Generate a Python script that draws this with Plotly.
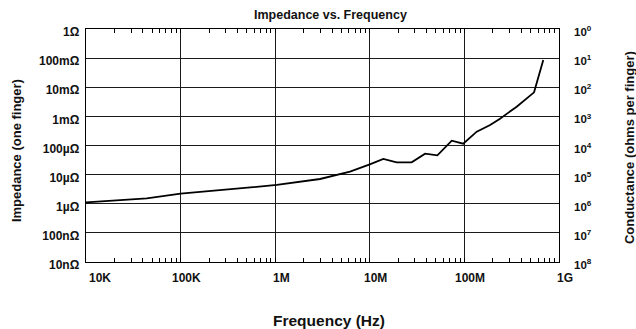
import plotly.graph_objects as go
import numpy as np

# ---- data ----
freq_hz = [1.0e4, 4.39e4, 1.0e5, 1.04e6, 2.98e6, 4.11e6, 6.18e6, 1.0e7, 1.39e7,
           1.92e7, 2.77e7, 3.84e7, 5.18e7, 7.35e7, 9.72e7, 1.35e8, 1.87e8,
           2.38e8, 3.57e8, 5.45e8, 6.82e8]
impedance_ohm = [1.12e-6, 1.54e-6, 2.21e-6, 4.41e-6, 7.08e-6, 8.97e-6, 1.26e-5,
                 2.26e-5, 3.44e-5, 2.65e-5, 2.65e-5, 5.22e-5, 4.60e-5, 1.46e-4,
                 1.15e-4, 2.98e-4, 5.06e-4, 8.32e-4, 2.15e-3, 6.70e-3, 8.63e-2]

x_tick_vals = [1e4, 1e5, 1e6, 1e7, 1e8, 1e9]
x_tick_text = ["10K", "100K", "1M", "10M", "100M", "1G"]
y_tick_vals = [1e-8, 1e-7, 1e-6, 1e-5, 1e-4, 1e-3, 1e-2, 1e-1, 1]
y_tick_text = ["10nΩ", "100nΩ", "1µΩ", "10µΩ", "100µΩ", "1mΩ", "10mΩ", "100mΩ", "1Ω"]
y2_tick_vals = [1, 10, 1e2, 1e3, 1e4, 1e5, 1e6, 1e7, 1e8]
y2_tick_text = ["10<sup>%d</sup>" % k for k in range(9)]

title_text = "Impedance vs. Frequency"
x_title = "Frequency (Hz)"
y_title = "Impedance (one finger)"
y2_title = "Conductance (ohms per finger)"

FONT = "Liberation Sans, Arial, Helvetica, sans-serif"
GRID = "#1a1a1a"

fig = go.Figure()
fig.add_trace(go.Scatter(x=freq_hz, y=impedance_ohm, mode="lines",
                         line=dict(color="black", width=1.8),
                         hoverinfo="skip", showlegend=False))
# empty trace to anchor right-hand conductance axis
fig.add_trace(go.Scatter(x=[], y=[], yaxis="y2", showlegend=False,
                         hoverinfo="skip"))

fig.update_layout(
    width=636, height=329,
    margin=dict(l=86, r=77, t=29, b=67),
    paper_bgcolor="white", plot_bgcolor="white",
    font=dict(family=FONT, color="#111", size=12),
    showlegend=False,
    xaxis=dict(
        type="log", range=[4, 9],
        tickvals=x_tick_vals,
        showticklabels=False,
        showgrid=True, gridcolor=GRID, gridwidth=1,
        showline=True, linecolor="black", linewidth=1.3, mirror="allticks",
        ticks="inside", ticklen=4, tickcolor="black", tickwidth=1,
        minor=dict(dtick="D1", ticks="inside", ticklen=4, tickcolor="black",
                   tickwidth=1, showgrid=False),
        zeroline=False,
    ),
    yaxis=dict(
        type="log", range=[-8, 0],
        tickvals=y_tick_vals, ticktext=["<b>%s</b>" % t for t in y_tick_text],
        showgrid=True, gridcolor=GRID, gridwidth=1,
        showline=True, linecolor="black", linewidth=1.3, mirror=True,
        ticks="", ticklabelstandoff=3, ticklabelshift=3,
        tickfont=dict(family=FONT, size=12, color="#111"),
        zeroline=False,
    ),
    yaxis2=dict(
        type="log", range=[8, 0], overlaying="y", side="right", anchor="x",
        tickvals=y2_tick_vals, ticktext=["<b>%s</b>" % t for t in y2_tick_text],
        showgrid=False, showline=False, ticks="", ticklabelstandoff=14,
        ticklabelshift=-3,
        tickfont=dict(family=FONT, size=11.5, color="#111"),
        zeroline=False,
    ),
)

annotations = []
for i, (v, t) in enumerate(zip(x_tick_vals, x_tick_text)):
    annotations.append(dict(
        x=np.log10(v), y=0, xref="x", yref="paper", text="<b>%s</b>" % t,
        showarrow=False, xanchor="center", yanchor="middle",
        xshift=14 if i == 0 else 6, yshift=-16,
        font=dict(family=FONT, size=12, color="#111")))

annotations += [
    dict(x=0.516, y=1, xref="paper", yref="paper", text="<b>%s</b>" % title_text,
         showarrow=False, xanchor="center", yanchor="middle", yshift=14,
         font=dict(family=FONT, size=12.5, color="#111")),
    dict(x=0.513, y=0, xref="paper", yref="paper", text="<b>%s</b>" % x_title,
         showarrow=False, xanchor="center", yanchor="middle", yshift=-58,
         font=dict(family=FONT, size=15.5, color="#111")),
    dict(x=0, y=0.476, xref="paper", yref="paper", text="<b>%s</b>" % y_title,
         showarrow=False, xanchor="center", yanchor="middle", xshift=-70,
         textangle=-90, font=dict(family=FONT, size=13, color="#111")),
    dict(x=1, y=0.489, xref="paper", yref="paper", text="<b>%s</b>" % y2_title,
         showarrow=False, xanchor="center", yanchor="middle", xshift=70,
         textangle=-90, font=dict(family=FONT, size=13, color="#111")),
]
fig.update_layout(annotations=annotations)

fig.write_html("out.html",
               config={"displayModeBar": False, "staticPlot": True},
               post_script="document.body.style.margin='0';"
                           "document.body.style.overflow='hidden';")
